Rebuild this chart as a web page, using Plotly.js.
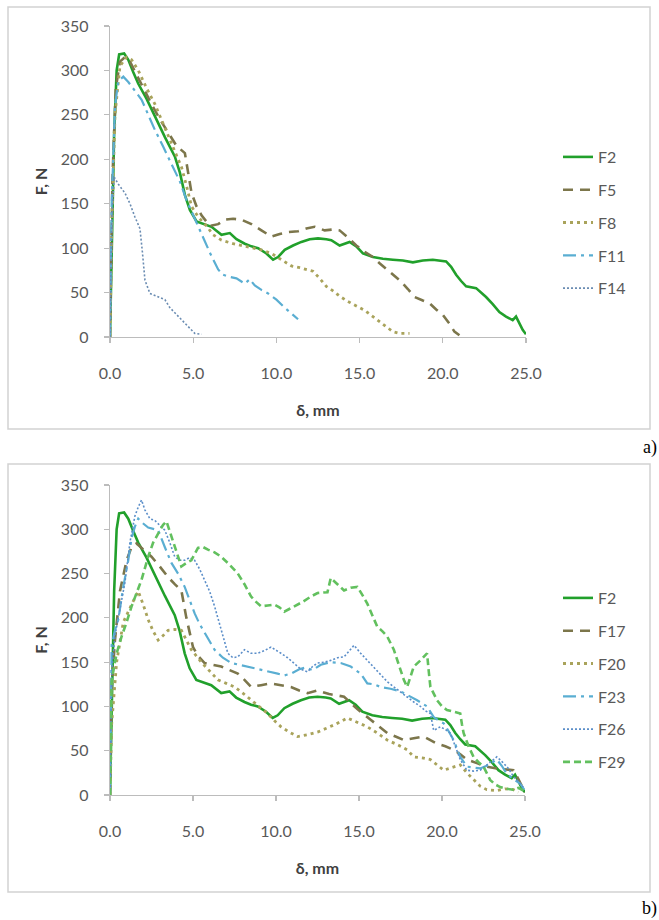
<!DOCTYPE html>
<html>
<head>
<meta charset="utf-8">
<script src="https://cdn.plot.ly/plotly-3.0.1.min.js"></script>
<style>html,body{margin:0;padding:0;background:#fff}#chart{width:659px;height:920px}</style>
</head>
<body>
<div id="chart"></div>
<script>
// ---------- Panel a) ----------
const a_F2_x = [0,0.1,0.25,0.4,0.55,0.85,1.1,1.4,1.7,2.2,2.7,3.3,3.9,4.2,4.5,4.8,5.2,5.6,6.1,6.7,7.2,7.6,8.1,8.5,8.9,9.4,9.8,10.1,10.5,11.0,11.5,12.0,12.5,13.0,13.3,13.8,14.4,14.8,15.2,15.8,16.4,17.0,17.6,18.2,18.8,19.4,19.8,20.2,20.5,20.8,21.1,21.4,22.0,22.3,22.6,23.0,23.4,23.8,24.2,24.4,24.6,24.8,25.0];
const a_F2_y = [0,100,230,300,318,319,312,298,285,268,248,225,203,185,160,143,130,127,124,115,117,110,105,102,100,94,87,90,98,103,107,110,111,110,109,103,107,102,94,90,88,87,86,84,86,87,86,85,79,70,63,57,55,50,45,37,28,23,19,23,15,8,3];

const a_F5_x = [0,0.15,0.35,0.6,0.9,1.2,1.6,2.0,2.5,3.0,3.5,4.0,4.5,4.7,4.9,5.2,5.5,6.0,6.5,6.9,7.4,7.9,8.5,9.1,9.7,10.2,10.7,11.3,11.8,12.3,12.9,13.4,13.8,14.3,14.8,15.3,15.8,16.2,16.6,17.0,17.4,17.9,18.3,18.8,19.2,19.6,20.0,20.4,20.7,21.0];
const a_F5_y = [0,180,280,310,315,310,295,280,262,245,230,215,207,185,162,147,137,125,127,132,133,132,127,120,113,116,118,119,122,124,120,121,120,112,103,96,90,83,77,70,64,54,45,41,38,31,25,15,6,2];

const a_F8_x = [0,0.1,0.3,0.6,1.0,1.3,1.7,2.2,2.7,3.2,3.7,4.0,4.3,4.6,4.9,5.3,5.8,6.2,6.7,7.4,8.1,8.6,9.1,9.7,10.3,10.9,11.4,12.2,12.6,13.0,13.4,13.8,14.3,14.8,15.3,15.8,16.2,16.6,17.0,17.4,17.8,18.0];
const a_F8_y = [0,120,250,305,315,312,300,280,262,240,218,205,191,170,147,135,125,115,109,105,102,100,98,94,87,80,78,74,66,57,52,46,40,35,30,23,17,12,6,4,4,4];

const a_F11_x = [0,0.1,0.3,0.5,0.8,1.1,1.5,1.9,2.3,2.7,3.2,3.7,4.2,4.6,5.0,5.5,6.0,6.5,6.8,7.1,7.6,8.1,8.4,8.7,9.1,9.5,10.0,10.5,11.1,11.3];
const a_F11_y = [0,150,260,288,293,287,277,267,250,233,214,195,175,154,137,117,95,76,70,68,66,60,65,58,53,49,42,33,23,20];

const a_F14_x = [0,0.1,0.25,0.5,0.9,1.2,1.5,1.8,1.95,2.1,2.4,2.8,3.3,3.6,3.9,4.3,4.7,5.1,5.5];
const a_F14_y = [0,130,180,172,162,150,135,122,95,64,49,46,42,33,27,19,12,4,3];

// ---------- Panel b) ----------
const b_F2_x = a_F2_x;
const b_F2_y = a_F2_y;

const b_F17_x = [0,0.1,0.3,0.6,1.0,1.3,1.6,2.0,2.5,3.0,3.5,3.9,4.3,4.6,5.0,5.3,5.7,6.2,6.7,7.2,7.7,8.1,8.5,9.1,9.7,10.3,10.9,11.4,11.9,12.5,13.2,14.1,14.9,15.7,16.2,16.7,17.2,17.7,18.3,18.9,19.3,19.7,20.2,20.7,21.1,21.5,22.1,22.7,23.3,23.8,24.3,24.6,24.9,25.0];
const b_F17_y = [0,120,175,230,265,280,284,277,269,258,246,238,231,200,167,157,149,147,145,141,137,130,122,124,126,124,122,118,115,118,114,111,97,85,77,70,66,62,64,66,62,58,55,51,46,40,36,32,30,29,28,18,6,3];

const b_F20_x = [0,0.1,0.4,0.8,1.3,1.7,2.0,2.3,2.6,2.9,3.2,3.5,3.9,4.3,4.6,4.9,5.5,6.0,6.5,7.0,7.5,8.0,8.5,9.0,9.5,9.9,10.3,10.8,11.3,11.9,12.5,13.0,13.6,14.3,14.9,15.5,16.1,16.7,17.3,17.9,18.3,18.8,19.3,19.7,20.1,20.6,21.1,21.5,21.9,22.3,22.7,23.3,23.8,24.3,24.6];
const b_F20_y = [0,80,150,195,215,230,215,198,185,175,180,186,187,186,175,164,150,140,130,126,122,115,107,100,92,84,77,71,66,68,71,75,80,87,82,77,70,62,57,51,43,42,40,34,28,31,34,25,17,10,6,5,7,6,3];

const b_F23_x = [0,0.1,0.3,0.5,0.8,1.1,1.3,1.5,1.7,1.9,2.3,2.9,3.3,3.7,4.1,4.5,4.8,5.1,5.4,5.7,6.0,6.3,6.8,7.3,7.8,8.3,8.8,9.3,9.7,10.1,10.5,10.9,11.4,11.8,12.2,12.7,13.3,13.9,14.5,15.1,15.5,15.9,16.3,16.9,17.5,18.0,18.5,19.1,19.5,19.8,20.1,20.4,20.7,21.1,21.5,21.9,22.3,22.8,23.3,23.6,23.9,24.3,24.7,25.0];
const b_F23_y = [0,170,186,198,235,265,290,303,312,308,302,299,280,262,250,235,220,205,193,183,173,164,155,149,147,145,143,141,139,137,135,137,142,144,141,147,150,149,145,137,126,125,122,120,117,112,107,100,88,84,81,72,62,43,32,31,30,34,40,33,24,18,13,5];

const b_F26_x = [0,0.1,0.3,0.6,0.9,1.2,1.5,1.7,1.9,2.1,2.4,2.7,3.0,3.3,3.6,3.9,4.2,4.5,4.8,5.1,5.4,5.7,6.0,6.3,6.5,6.7,6.9,7.1,7.4,7.7,8.1,8.5,8.9,9.3,9.7,10.0,10.3,10.7,11.1,11.5,11.9,12.2,12.5,12.9,13.3,13.7,14.1,14.4,14.7,15.1,15.5,15.9,16.3,16.7,17.1,17.5,17.9,18.3,18.7,19.0,19.3,19.5,19.9,20.2,20.5,20.8,21.1,21.5,21.9,22.3,22.8,23.3,23.6,24.0,24.3,24.6,24.9];
const b_F26_y = [0,140,180,210,240,285,315,325,333,322,312,310,305,299,285,269,265,265,268,265,255,243,230,213,200,186,172,160,155,156,164,160,160,163,167,163,160,155,149,142,139,145,149,150,152,155,156,162,169,160,152,143,135,128,122,116,111,105,100,95,92,73,77,74,70,55,40,28,27,28,35,43,38,30,21,15,9];

const b_F29_x = [0,0.1,0.4,0.7,1.0,1.3,1.6,1.9,2.3,2.6,2.9,3.2,3.4,3.6,3.9,4.1,4.3,4.6,4.9,5.1,5.3,5.6,5.9,6.3,6.7,7.2,7.7,8.1,8.5,8.8,9.1,9.5,9.9,10.2,10.5,10.8,11.1,11.6,12.1,12.5,13.1,13.3,13.7,14.1,14.5,14.9,15.2,15.5,15.8,16.1,16.4,16.7,17.1,17.3,17.5,17.7,17.9,18.1,18.3,18.7,19.1,19.2,19.3,19.7,20.0,20.3,20.7,21.1,21.2,21.3,21.6,21.9,22.2,22.5,22.9,23.2,23.5,23.9,24.3,24.6,24.9,25.0];
const b_F29_y = [0,130,160,179,195,213,228,243,269,285,295,305,309,298,280,268,258,262,265,272,279,280,277,274,269,260,250,238,224,218,213,214,215,212,207,210,213,218,224,228,229,245,238,231,234,235,226,216,203,190,185,179,164,152,141,130,122,135,145,152,160,140,122,107,100,96,94,92,80,70,55,43,37,32,17,12,9,7,6,8,5,3];

const xTicks = [0,5,10,15,20,25];
const xTickText = ['0.0','5.0','10.0','15.0','20.0','25.0'];
const yTicks = [0,50,100,150,200,250,300,350];

// ---------- styles ----------
const C_GREEN = '#21a02b', C_OLIVE = '#7c764b', C_KHAKI = '#a9a35b',
      C_AQUA = '#5aaed2', C_STEEL = '#6a8cb2', C_BLUE = '#5b8ec9', C_LGREEN = '#62c05e';

function tr(x, y, name, color, width, dash, xa, ya, leg, grp) {
  return {x: x, y: y, name: name, type: 'scatter', mode: 'lines',
    line: {color: color, width: width, dash: dash},
    xaxis: xa, yaxis: ya, legend: leg, legendgroup: grp, hoverinfo: 'skip'};
}

const traces = [
  tr(a_F2_x, a_F2_y, 'F2', C_GREEN, 2.6, 'solid', 'x', 'y', 'legend', 'a1'),
  tr(a_F5_x, a_F5_y, 'F5', C_OLIVE, 2.6, '10px,7px', 'x', 'y', 'legend', 'a2'),
  tr(a_F8_x, a_F8_y, 'F8', C_KHAKI, 2.8, '3px,4px', 'x', 'y', 'legend', 'a3'),
  tr(a_F11_x, a_F11_y, 'F11', C_AQUA, 2.2, '13px,5px,3px,5px', 'x', 'y', 'legend', 'a4'),
  tr(a_F14_x, a_F14_y, 'F14', C_STEEL, 1.6, '2px,2px', 'x', 'y', 'legend', 'a5'),
  tr(b_F2_x, b_F2_y, 'F2', C_GREEN, 2.6, 'solid', 'x2', 'y2', 'legend2', 'b1'),
  tr(b_F17_x, b_F17_y, 'F17', C_OLIVE, 2.6, '10px,7px', 'x2', 'y2', 'legend2', 'b2'),
  tr(b_F20_x, b_F20_y, 'F20', C_KHAKI, 2.8, '3px,4px', 'x2', 'y2', 'legend2', 'b3'),
  tr(b_F23_x, b_F23_y, 'F23', C_AQUA, 2.2, '13px,5px,3px,5px', 'x2', 'y2', 'legend2', 'b4'),
  tr(b_F26_x, b_F26_y, 'F26', C_BLUE, 1.6, '2px,2px', 'x2', 'y2', 'legend2', 'b5'),
  tr(b_F29_x, b_F29_y, 'F29', C_LGREEN, 2.6, '7px,4px', 'x2', 'y2', 'legend2', 'b6')
];

const FONT = 'Lato, "Open Sans", sans-serif';
const tickFont = {family: FONT, size: 16, color: '#595959'};
const titleFont = {family: FONT, size: 16, color: '#404040'};
const AX = '#bcbcbc';

function xax(anchor, dom) {
  return {domain: dom, anchor: anchor, range: [0, 25], tickvals: xTicks, ticktext: xTickText,
    showline: true, linecolor: AX, linewidth: 1.3, ticks: 'outside', ticklen: 5, tickcolor: AX,
    tickwidth: 1.2, showgrid: false, zeroline: false, tickfont: tickFont, ticklabelstandoff: 16,
    title: {text: '<b>δ, mm</b>', font: titleFont, standoff: 24}, fixedrange: true};
}
function yax(anchor, dom) {
  return {domain: dom, anchor: anchor, range: [0, 350], tickvals: yTicks,
    showline: true, linecolor: AX, linewidth: 1.3, ticks: 'outside', ticklen: 5, tickcolor: AX,
    tickwidth: 1.2, showgrid: false, zeroline: false, tickfont: tickFont, ticklabelstandoff: 12,
    title: {text: '<b>F, N</b>', font: titleFont, standoff: 9}, fixedrange: true};
}

const W = 659, H = 920;
const px = v => v / W, py = v => 1 - v / H;

const legendBase = {xanchor: 'left', yanchor: 'top', bgcolor: 'rgba(0,0,0,0)',
  font: {family: FONT, size: 16, color: '#595959'}, tracegroupgap: 9, itemwidth: 30,
  orientation: 'v'};

const layout = {
  width: W, height: H, margin: {l: 0, r: 0, t: 0, b: 0},
  paper_bgcolor: '#ffffff', plot_bgcolor: 'rgba(0,0,0,0)', showlegend: true,
  xaxis: xax('y', [px(110), px(526)]),
  yaxis: yax('x', [py(337), py(26)]),
  xaxis2: xax('y2', [px(110), px(525)]),
  yaxis2: yax('x2', [py(795), py(485)]),
  legend: Object.assign({}, legendBase, {x: px(558), y: py(140)}),
  legend2: Object.assign({}, legendBase, {x: px(558), y: py(581)}),
  shapes: [
    {type: 'rect', xref: 'paper', yref: 'paper', x0: px(8), x1: px(650), y0: py(429), y1: py(7),
     line: {color: '#d2d2d2', width: 1.5}},
    {type: 'rect', xref: 'paper', yref: 'paper', x0: px(8), x1: px(650), y0: py(892), y1: py(464),
     line: {color: '#d2d2d2', width: 1.5}}
  ],
  annotations: [
    {text: 'a)', xref: 'paper', yref: 'paper', x: 1, y: py(447), xanchor: 'right', yanchor: 'middle',
     showarrow: false, font: {family: '"Liberation Serif", serif', size: 18, color: '#000'}},
    {text: 'b)', xref: 'paper', yref: 'paper', x: 1, y: py(908), xanchor: 'right', yanchor: 'middle',
     showarrow: false, font: {family: '"Liberation Serif", serif', size: 18, color: '#000'}}
  ]
};

Plotly.newPlot('chart', traces, layout, {displayModeBar: false, staticPlot: true});
</script>
</body>
</html>
